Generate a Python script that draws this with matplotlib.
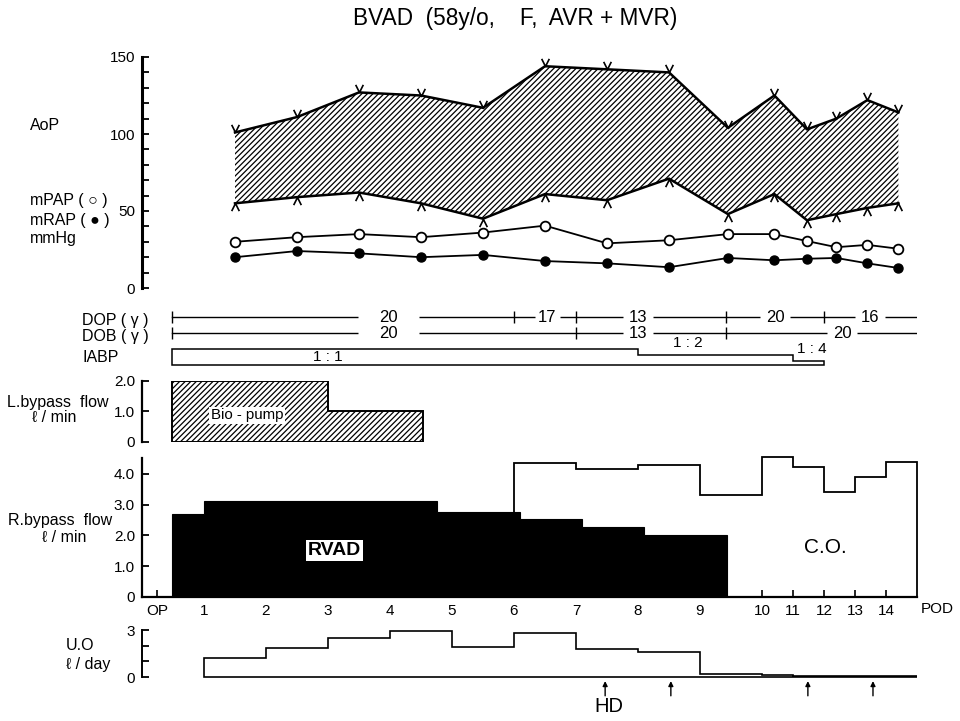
import numpy as np
import matplotlib
matplotlib.use("Agg")
import matplotlib.pyplot as plt
from matplotlib.path import Path

plt.rcParams['font.family'] = ['Liberation Sans', 'DejaVu Sans']
plt.rcParams['hatch.linewidth'] = 0.9
plt.rcParams['hatch.color'] = 'black'

# ---------------- data ----------------
# haemodynamics, one reading per post-operative day
obs_day = [1.5, 2.5, 3.5, 4.5, 5.5, 6.5, 7.5, 8.5, 9.45, 10.4, 11.45, 12.4, 13.4, 14.4]
aop_systolic = [101, 111, 127, 125, 117, 144, 142, 140, 104, 125, 103, 110, 122, 114]
aop_diastolic = [55, 59, 62, 55, 45, 61, 57, 71, 48, 61, 44, 48, 52, 55]
mpap = [30, 33, 35, 33, 36, 40.5, 29, 31, 35, 35, 30.5, 26.5, 28, 25.5]
mrap = [20, 24, 22.5, 20, 21.5, 17.5, 16, 13.5, 19.5, 18, 19, 19.5, 16, 13]

# inotropes (gamma) as step schedules
dop_edges = [0.48, 6.0, 7.0, 9.42, 12.0, 15.0]
dop_dose = [20, 17, 13, 20, 16]
dob_edges = [0.48, 7.0, 9.42, 15.0]
dob_dose = [20, 13, 20]

# IABP assist ratio
iabp_edges = [0.48, 8.0, 11.0, 12.0]
iabp_ratio = ['1 : 1', '1 : 2', '1 : 4']
iabp_level = [1.0, 0.62, 0.25]

# left bypass (Bio-pump) flow, l/min
lbp_edges = [0.48, 3.0, 4.53]
lbp_flow = [2.0, 1.0]

# right bypass (RVAD) flow and cardiac output, l/min
rvad_edges = [0.48, 1.0, 4.75, 6.1, 7.1, 8.1, 9.43]
rvad_flow = [2.7, 3.12, 2.75, 2.55, 2.28, 2.0]
co_edges = [6, 7, 8, 9, 10, 11, 12, 13, 14, 15]
co_flow = [4.36, 4.15, 4.28, 3.31, 4.54, 4.23, 3.42, 3.91, 4.39]

# urine output, l/day
uo_edges = list(range(1, 16))
uo_volume = [1.23, 1.87, 2.5, 2.93, 1.93, 2.78, 1.76, 1.61, 0.17, 0.1, 0.04, 0.04, 0.04, 0.04]

# haemodialysis sessions
hd_day = [7.47, 8.53, 11.48, 13.58]

# day axis
day_ticks = [0.24] + list(range(1, 15))
day_labels = ['OP'] + [str(d) for d in range(1, 15)]

# ---------------- layout ----------------
W, H = 960, 721
X_LEFT, X_RIGHT = 142, 917
LABEL_SIZE = 11.5

fig = plt.figure(figsize=(W / 100, H / 100), dpi=100)


def day_fwd(d):
    d = np.asarray(d, dtype=float)
    return np.where(d <= 10, d, 10 + (d - 10) / 2.0)


def day_inv(p):
    p = np.asarray(p, dtype=float)
    return np.where(p <= 10, p, 10 + (p - 10) * 2.0)


def panel(top, bottom):
    ax = fig.add_axes([X_LEFT / W, 1 - bottom / H,
                       (X_RIGHT - X_LEFT) / W, (bottom - top) / H])
    ax.set_xscale('function', functions=(day_fwd, day_inv))
    ax.set_xlim(0, 15)
    ax.patch.set_alpha(0)
    for s in ('top', 'right', 'bottom'):
        ax.spines[s].set_visible(False)
    ax.tick_params(axis='x', which='both', bottom=False, labelbottom=False)
    return ax


def step_outline(edges, values, base=0.0):
    xs, ys = [edges[0]], [base]
    for i, v in enumerate(values):
        xs += [edges[i], edges[i + 1]]
        ys += [v, v]
    xs.append(edges[-1])
    ys.append(base)
    return xs, ys


def label(px, py, s, ha='left', size=LABEL_SIZE, **kw):
    fig.text(px / W, 1 - py / H, s, ha=ha, va='center', fontsize=size, **kw)


def yaxis_style(ax, lw=1.6):
    ax.spines['left'].set_linewidth(lw)
    ax.tick_params(axis='y', which='both', direction='in', length=5,
                   width=1.3, labelsize=11, pad=5)


# title
label(515, 18, 'BVAD  (58y/o,    F,  AVR + MVR)', ha='center', size=16.3)

# ---------------- pressures ----------------
ax1 = panel(57, 288)
ax1.set_ylim(0, 150)
ax1.set_yticks([0, 50, 100, 150])
ax1.set_yticks(range(0, 151, 10), minor=True)
yaxis_style(ax1, lw=2.2)

v_up = Path([(-0.5, 1.0), (0.0, 0.0), (0.5, 1.0)],
            [Path.MOVETO, Path.LINETO, Path.LINETO])
v_down = Path([(-0.5, -1.0), (0.0, 0.0), (0.5, -1.0)],
              [Path.MOVETO, Path.LINETO, Path.LINETO])

ax1.fill_between(obs_day, aop_diastolic, aop_systolic, facecolor='white',
                 edgecolor='black', hatch='//////', linewidth=0, zorder=1)
ax1.plot(obs_day, aop_systolic, color='black', lw=1.8, marker=v_up, ms=11,
         mew=1.2, mfc='none', zorder=3)
ax1.plot(obs_day, aop_diastolic, color='black', lw=1.8, marker=v_down, ms=11,
         mew=1.2, mfc='none', zorder=3)
ax1.plot(obs_day, mpap, color='black', lw=1.3, marker='o', ms=7, mfc='white',
         mew=1.3, zorder=3)
ax1.plot(obs_day, mrap, color='black', lw=1.3, marker='o', ms=6.5, mfc='black',
         mew=1.0, zorder=3)

label(30, 125, 'AoP')
label(30, 201, 'mPAP ( \u25cb )')
label(30, 220, 'mRAP ( \u25cf )')
label(30, 238, 'mmHg')

# ---------------- drugs / IABP ----------------
ax2 = panel(300, 370)
ax2.set_ylim(-0.3125, 4.0625)
ax2.spines['left'].set_visible(False)
ax2.set_yticks([])

DOP_ROW, DOB_ROW = 3.0, 2.0
dop_text_x = [3.97, 6.53, 8.0, 10.42, 13.48]
dob_text_x = [3.97, 8.0, 12.58]
dop_gap_px = [61, 25, 30, 30, 30]
dob_gap_px = [61, 30, 30]

# flat white bar used to open a gap in a schedule line around its dose
gap_bar = Path([(-1, -0.2), (1, -0.2), (1, 0.2), (-1, 0.2), (-1, -0.2)],
               [Path.MOVETO, Path.LINETO, Path.LINETO, Path.LINETO,
                Path.CLOSEPOLY])

for edges, doses, row, tx, gaps in (
        (dop_edges, dop_dose, DOP_ROW, dop_text_x, dop_gap_px),
        (dob_edges, dob_dose, DOB_ROW, dob_text_x, dob_gap_px)):
    ax2.plot([edges[0], edges[-1]], [row, row], color='black', lw=1.0)
    ax2.plot(edges[:-1], [row] * (len(edges) - 1), ls='none', marker='|',
             ms=8, mew=1.0, color='black')
    for x, v, g in zip(tx, doses, gaps):
        ax2.plot([x], [row], ls='none', marker=gap_bar, ms=g * 0.72,
                 mfc='white', mec='none', zorder=3)
        ax2.text(x, row, str(v), ha='center', va='center', fontsize=12,
                 zorder=5)

xs, ys = step_outline(iabp_edges, iabp_level)
ax2.fill(xs, ys, facecolor='white', edgecolor='black', lw=1.1)
iabp_text_pos = [(3.0, 0.5), (8.8, 1.37), (11.6, 1.0)]
for (x, y), s in zip(iabp_text_pos, iabp_ratio):
    ax2.text(x, y, s, ha='center', va='center', fontsize=11, zorder=5)

label(82, 320, 'DOP ( \u03b3 )')
label(82, 336, 'DOB ( \u03b3 )')
label(82, 358, 'IABP')

# ---------------- left bypass flow ----------------
ax3 = panel(381, 442)
ax3.set_ylim(0, 2.0)
ax3.set_yticks([0, 1, 2])
ax3.set_yticklabels(['0', '1.0', '2.0'])
yaxis_style(ax3)
xs, ys = step_outline(lbp_edges, lbp_flow)
ax3.fill(xs, ys, facecolor='white', edgecolor='black', hatch='//////', lw=1.4)
ax3.text(1.69, 0.88, 'Bio - pump', ha='center', va='center', fontsize=10.8,
         bbox=dict(boxstyle='square,pad=0.1', fc='white', ec='none'))

label(58, 402, 'L.bypass  flow', ha='center')
label(54, 418, '\u2113 / min', ha='center')

# ---------------- right bypass flow / C.O. ----------------
ax4 = panel(458, 597)
ax4.set_ylim(0, 4.52)
ax4.spines['bottom'].set_visible(True)
ax4.spines['bottom'].set_linewidth(1.6)
ax4.set_axisbelow(True)
ax4.set_yticks([0, 1, 2, 3, 4])
ax4.set_yticklabels(['0', '1.0', '2.0', '3.0', '4.0'])
yaxis_style(ax4)
ax4.set_xticks(day_ticks)
ax4.set_xticklabels(day_labels)
ax4.tick_params(axis='x', which='major', bottom=True, labelbottom=True,
                direction='in', length=5, width=1.2, labelsize=11, pad=5)
ax4.tick_params(axis='x', which='minor', bottom=False)

xs, ys = step_outline(co_edges, co_flow)
ax4.fill(xs, ys, facecolor='none', edgecolor='black', lw=1.3, zorder=1,
         clip_on=False)
xs, ys = step_outline(rvad_edges, rvad_flow)
ax4.fill(xs, ys, facecolor='black', edgecolor='black', lw=0.8, zorder=1.5)

ax4.text(3.1, 1.5, 'RVAD', ha='center', va='center', fontsize=14,
         fontweight='bold',
         bbox=dict(boxstyle='square,pad=0.1', fc='white', ec='none'))
ax4.text(12.03, 1.6, 'C.O.', ha='center', va='center', fontsize=15)
ax4.text(15.65, -0.086, 'POD', ha='center', va='center', fontsize=11,
         transform=ax4.get_xaxis_transform(), clip_on=False)

label(60, 520, 'R.bypass  flow', ha='center')
label(64, 538, '\u2113 / min', ha='center')

# ---------------- urine output ----------------
ax5 = panel(630, 715)
ax5.set_ylim(-2.425, 3)
ax5.spines['left'].set_bounds(0, 3)
ax5.set_yticks([0, 1, 2, 3])
ax5.set_yticklabels(['0', '', '', '3'])
yaxis_style(ax5, lw=1.4)
xs, ys = step_outline(uo_edges, uo_volume)
ax5.fill(xs, ys, facecolor='white', edgecolor='black', lw=1.2)

for d in hd_day:
    ax5.annotate('', xy=(d, -0.26), xytext=(d, -1.2),
                 arrowprops=dict(arrowstyle='-|>', lw=1.0, color='black',
                                 mutation_scale=7, shrinkA=0, shrinkB=0))
ax5.text(hd_day[0] + 0.06, -1.91, 'HD', ha='center', va='center', fontsize=14.5)

label(80, 645, 'U.O', ha='center')
label(88, 665, '\u2113 / day', ha='center')

fig.savefig('out.png', dpi=100)
